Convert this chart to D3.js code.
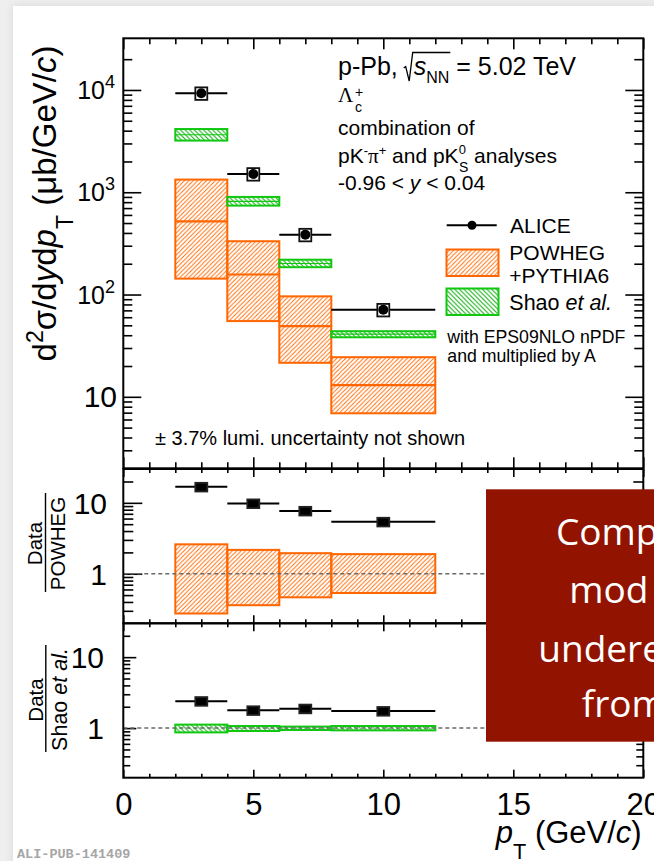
<!DOCTYPE html>
<html>
<head>
<meta charset="utf-8">
<script src="https://cdn.jsdelivr.net/npm/d3@7"></script>
<style>
  html, body { margin: 0; padding: 0; background: #efefef; }
  svg { display: block; }
  text { font-family: "Liberation Sans", Arial, Helvetica, sans-serif; }
</style>
</head>
<body>
<svg id="chart" width="654" height="861"></svg>
<script>
// ---- Lambda_c+ cross section in p-Pb collisions, sqrt(sNN) = 5.02 TeV ----
// pT bins (GeV/c)
const binLo  = [2, 4, 6, 8];
const binHi  = [4, 6, 8, 12];
const binMid = [3, 5, 7, 10];

// ALICE measurement (μb/GeV/c) and relative systematic uncertainty
const aliceVal     = [9300, 1510, 385, 71];
const aliceSystRel = [0.14, 0.14, 0.14, 0.14];

// POWHEG+PYTHIA6: central value and uncertainty band
const powhegCen = [520, 157, 49, 13];
const powhegLo  = [143, 55, 21.5, 6.9];
const powhegHi  = [1330, 332, 96, 24.4];

// Shao et al. (EPS09NLO nPDF, multiplied by A)
const shaoCen = [3650, 816, 201, 41];
const shaoLo  = [3200, 740, 185, 38.2];
const shaoHi  = [4150, 900, 219, 43.8];

// Data / POWHEG
const ratioPowheg       = [16.8, 9.8, 7.7, 5.4];
const ratioPowhegBandLo = [0.275, 0.36, 0.465, 0.535];
const ratioPowhegBandHi = [2.6, 2.17, 1.95, 1.89];

// Data / Shao et al.
const ratioShao       = [2.4, 1.78, 1.88, 1.74];
const ratioShaoBandLo = [0.87, 0.91, 0.94, 0.93];
const ratioShaoBandHi = [1.12, 1.07, 1.05, 1.07];
const ratioSystRel    = [0.14, 0.14, 0.14, 0.14];

// Axis ticks and labels
const xTicks        = [0, 5, 10, 15, 20];
const yTopMajor     = [10, 100, 1000, 10000];
const yTopLabelExp  = ["", "2", "3", "4"];
const ratioMajor    = [1, 10];
const ratioLabels   = ["1", "10"];

// ---------------------------------------------------------------------------
const ORANGE = "#ff6600";
const GREEN  = "#10c810";

const svg = d3.select("#chart");
const defs = svg.append("defs");

// soft card shadow
const f = defs.append("filter").attr("id", "card").attr("x", "-5%").attr("y", "-5%")
  .attr("width", "110%").attr("height", "110%");
f.append("feDropShadow").attr("dx", 0).attr("dy", 0).attr("stdDeviation", 4)
  .attr("flood-color", "#000").attr("flood-opacity", 0.10);

function hatch(id, color, dir, s, sw) {
  const p = defs.append("pattern").attr("id", id)
    .attr("patternUnits", "userSpaceOnUse").attr("width", s).attr("height", s);
  const d = dir === "/"
    ? `M-1,1 L1,-1 M0,${s} L${s},0 M${s - 1},${s + 1} L${s + 1},${s - 1}`
    : `M-1,${s - 1} L1,${s + 1} M0,0 L${s},${s} M${s - 1},-1 L${s + 1},1`;
  p.append("path").attr("d", d).attr("stroke", color)
    .attr("stroke-width", sw).attr("fill", "none");
}
hatch("hO", ORANGE, "/", 4.4, 0.9);
hatch("hG", "#0aa80a", "\\", 4.6, 1.0);

svg.append("rect").attr("width", 654).attr("height", 861).attr("fill", "#efefef");
svg.append("rect").attr("x", 13).attr("y", 6).attr("width", 700).attr("height", 900)
  .attr("fill", "#fff").attr("filter", "url(#card)");

// ---- scales ----
const X0 = 123.3, X1 = 643.3;
const x = d3.scaleLinear().domain([0, 20]).range([X0, X1]);
const panels = [
  { y: d3.scaleLog().domain([2, 3.2e4]).range([468.3, 38.3]),  top: 38.3,  bot: 468.3,
    yMaj: 18, yMin: 9, xMaj: 11, xMin: 6, minorMax: 2.5e4 },
  { y: d3.scaleLog().domain([0.2, 30]).range([623.3, 469]),    top: 469,   bot: 623.3,
    yMaj: 19, yMin: 10, xMaj: 8, xMin: 4, minorMax: 25 },
  { y: d3.scaleLog().domain([0.2, 30]).range([777.7, 623.3]),  top: 623.3, bot: 777.7,
    yMaj: 13, yMin: 7, xMaj: 8, xMin: 4, minorMax: 25 }
];
const [yTop, yMid, yBot] = panels.map(p => p.y);

function logMinor(scale, maxV) {
  const [lo, hi] = scale.domain();
  const out = [];
  for (let e = Math.floor(Math.log10(lo)); e <= Math.ceil(Math.log10(hi)); e++) {
    for (let k = 2; k <= 9; k++) {
      const v = k * Math.pow(10, e);
      if (v > lo * 1.001 && v < hi && v <= maxV) out.push(v);
    }
  }
  return out;
}
const xMinor = d3.range(0, 21).filter(v => v % 5 !== 0);

function styleTicks(g) {
  g.select(".domain").remove();
  g.selectAll(".tick line").attr("stroke", "#000").attr("stroke-width", 1.6);
  g.selectAll(".tick text").remove();
}

// ---- panel frames and ticks ----
panels.forEach(p => {
  const majors = p === panels[0] ? yTopMajor : ratioMajor;
  const minors = logMinor(p.y, p.minorMax);
  [[majors, p.yMaj], [minors, p.yMin]].forEach(([vals, len]) => {
    svg.append("g").attr("transform", `translate(${X0},0)`)
      .call(d3.axisLeft(p.y).tickValues(vals).tickSize(-len)).call(styleTicks);
    svg.append("g").attr("transform", `translate(${X1},0)`)
      .call(d3.axisRight(p.y).tickValues(vals).tickSize(-len)).call(styleTicks);
  });
  [[xTicks, p.xMaj], [xMinor, p.xMin]].forEach(([vals, len]) => {
    svg.append("g").attr("transform", `translate(0,${p.top})`)
      .call(d3.axisTop(x).tickValues(vals).tickSize(-len)).call(styleTicks);
    svg.append("g").attr("transform", `translate(0,${p.bot})`)
      .call(d3.axisBottom(x).tickValues(vals).tickSize(-len)).call(styleTicks);
  });
});

// ---- rich text helper (sub/superscripts, italics) ----
function rich(parent, xx, yy, fs, parts, anchor) {
  const t = parent.append("text").attr("x", xx).attr("y", yy).style("font-size", fs + "px");
  if (anchor) t.attr("text-anchor", anchor);
  let cur = 0;
  parts.forEach(p => {
    const o = typeof p === "string" ? { t: p } : p;
    const ts = t.append("tspan").text(o.t);
    let off = 0, size = null;
    if (o.sub) { off = o.off ?? 0.3 * fs; size = o.size ?? 0.7 * fs; }
    if (o.sup) { off = o.off ?? -0.4 * fs; size = o.size ?? 0.7 * fs; }
    if (off - cur) ts.attr("dy", off - cur);
    cur = off;
    if (size) ts.style("font-size", size + "px");
    if (o.it) ts.style("font-style", "italic");
    if (o.dx) ts.attr("dx", o.dx);
    if (o.font) ts.style("font-family", o.font);
  });
  return t;
}

// ---- tick labels ----
yTopMajor.forEach((v, i) => {
  const yy = yTop(v);
  if (yTopLabelExp[i]) {
    rich(svg, 115, yy + 9, 25, ["10", { t: yTopLabelExp[i], sup: true, size: 18, off: -11 }], "end");
  } else {
    rich(svg, 117, yy + 10.5, 30, ["10"], "end");
  }
});
[[yMid, 107], [yBot, 104]].forEach(([s, xe]) => {
  ratioMajor.forEach((v, i) => {
    svg.append("text").attr("x", xe).attr("y", s(v) + 11).attr("text-anchor", "end")
      .style("font-size", "30px").text(ratioLabels[i]);
  });
});
svg.append("g").attr("transform", `translate(0,${panels[2].bot})`)
  .call(d3.axisBottom(x).tickValues(xTicks).tickSize(0).tickPadding(15).tickFormat(d3.format("d")))
  .call(g => {
    g.select(".domain").remove();
    g.selectAll("text").style("font-size", "31px")
      .style("font-family", '"Liberation Sans", Arial, sans-serif').attr("fill", "#000");
  });

// ---- axis titles ----
const yTitle = svg.append("g").attr("transform", "translate(56,203.5) rotate(-90)");
rich(yTitle, 0, 0, 33, [
  "d", { t: "2", sup: true }, "σ/d", { t: "y", it: true }, "d", { t: "p", it: true },
  { t: "T", sub: true, off: 0.5 * 33 }, " (μb/GeV/", { t: "c", it: true }, ")"
], "middle");

rich(svg, 641.7, 843, 31, [
  { t: "p", it: true }, { t: "T", sub: true, off: 16 }, " (GeV/", { t: "c", it: true }, ")"
], "end");

const f1 = svg.append("g").attr("transform", "translate(42,543.5) rotate(-90)");
f1.append("text").attr("text-anchor", "middle").style("font-size", "20.5px").text("Data");
svg.append("line").attr("x1", 45.5).attr("x2", 45.5).attr("y1", 493).attr("y2", 592)
  .attr("stroke", "#000").attr("stroke-width", 1.4);
const f2 = svg.append("g").attr("transform", "translate(65,543.5) rotate(-90)");
f2.append("text").attr("text-anchor", "middle").style("font-size", "20.5px").text("POWHEG");

const f3 = svg.append("g").attr("transform", "translate(43,700) rotate(-90)");
f3.append("text").attr("text-anchor", "middle").style("font-size", "20.5px").text("Data");
svg.append("line").attr("x1", 45.8).attr("x2", 45.8).attr("y1", 645).attr("y2", 752)
  .attr("stroke", "#000").attr("stroke-width", 1.4);
const f4 = svg.append("g").attr("transform", "translate(67,699.5) rotate(-90)");
rich(f4, 0, 0, 21.5, ["Shao ", { t: "et al.", it: true }], "middle");

// ---- top panel: model bands ----
const bins = d3.range(binLo.length);
function band(g, yS, lo, hi, cen, pat, color, sw, cw) {
  g.selectAll(null).data(bins).join("rect")
    .attr("x", i => x(binLo[i])).attr("width", i => x(binHi[i]) - x(binLo[i]))
    .attr("y", i => yS(hi[i])).attr("height", i => yS(lo[i]) - yS(hi[i]))
    .attr("fill", `url(#${pat})`).attr("stroke", color).attr("stroke-width", sw);
  if (cen) {
    g.selectAll(null).data(bins).join("line")
      .attr("x1", i => x(binLo[i])).attr("x2", i => x(binHi[i]))
      .attr("y1", i => yS(cen[i])).attr("y2", i => yS(cen[i]))
      .attr("stroke", color).attr("stroke-width", cw);
  }
}
const gTop = svg.append("g");
band(gTop, yTop, powhegLo, powhegHi, powhegCen, "hO", ORANGE, 2, 2.2);
band(gTop, yTop, shaoLo, shaoHi, shaoCen, "hG", GREEN, 2, 1.2);

// ALICE points: bin-width bar, systematic box, marker
function dataPoints(g, yS, vals, syst, marker) {
  g.selectAll(null).data(bins).join("line")
    .attr("x1", i => x(binLo[i])).attr("x2", i => x(binHi[i]))
    .attr("y1", i => yS(vals[i])).attr("y2", i => yS(vals[i]))
    .attr("stroke", "#000").attr("stroke-width", 2);
  g.selectAll(null).data(bins).join("rect")
    .attr("x", i => x(binMid[i] - 0.23)).attr("width", i => x(binMid[i] + 0.23) - x(binMid[i] - 0.23))
    .attr("y", i => yS(vals[i] * (1 + syst[i])))
    .attr("height", i => yS(vals[i] * (1 - syst[i])) - yS(vals[i] * (1 + syst[i])))
    .attr("fill", marker === "circle" ? "#fff" : "#000")
    .attr("stroke", marker === "circle" ? "#111" : "#222").attr("stroke-width", 1.8);
  if (marker === "circle") {
    g.selectAll(null).data(bins).join("circle")
      .attr("cx", i => x(binMid[i])).attr("cy", i => yS(vals[i])).attr("r", 5)
      .attr("fill", "#000");
  }
}
dataPoints(gTop, yTop, aliceVal, aliceSystRel, "circle");

// ---- ratio panels ----
const gMid = svg.append("g");
band(gMid, yMid, ratioPowhegBandLo, ratioPowhegBandHi, null, "hO", ORANGE, 2, 0);
const gBot = svg.append("g");
band(gBot, yBot, ratioShaoBandLo, ratioShaoBandHi, null, "hG", GREEN, 2, 0);
[[gMid, yMid], [gBot, yBot]].forEach(([g, s]) => {
  g.append("line").attr("x1", X0).attr("x2", X1).attr("y1", s(1)).attr("y2", s(1))
    .attr("stroke", "#6a6a6a").attr("stroke-width", 1.5).attr("stroke-dasharray", "4,3");
});
dataPoints(gMid, yMid, ratioPowheg, ratioSystRel, "square");
dataPoints(gBot, yBot, ratioShao, ratioSystRel, "square");

// frames
panels.forEach(p => {
  svg.append("rect").attr("x", X0).attr("y", p.top).attr("width", X1 - X0)
    .attr("height", p.bot - p.top).attr("fill", "none")
    .attr("stroke", "#000").attr("stroke-width", 2);
});

// ---- annotations ----
const hdr = rich(svg, 338, 75, 25, [
  "p-Pb, ", { t: "s", it: true, dx: 9 }, { t: "NN", sub: true, off: 7.5, size: 16 },
  " = 5.02 TeV"
]);
{
  const n = hdr.node();
  const sx = n.getStartPositionOfChar(6).x;
  const ex = n.getEndPositionOfChar(8).x;
  svg.append("path")
    .attr("d", `M${sx - 10},68 L${sx - 8},66.5 L${sx - 4.5},81 L${sx - 1},52.5 L${ex + 1},52.5`)
    .attr("fill", "none").attr("stroke", "#000").attr("stroke-width", 1.3);
}
svg.append("text").attr("x", 338).attr("y", 101.7)
  .style("font-family", '"Liberation Serif", serif').style("font-size", "21px").text("Λ");
svg.append("text").attr("x", 355).attr("y", 112).style("font-size", "14px").text("c");
svg.append("text").attr("x", 355).attr("y", 96.5).style("font-size", "14px").text("+");

rich(svg, 338, 135, 21, ["combination of"]);
rich(svg, 338, 163.3, 21, [
  "pK", { t: "-", sup: true, off: -8, size: 13 },
  { t: "π", font: '"Liberation Serif", serif' }, { t: "+", sup: true, off: -8, size: 13 },
  " and pK", { t: "0", sup: true, off: -9, size: 13 }, { t: "S", sub: true, off: 9, size: 14, dx: -7 },
  " analyses"
]);
rich(svg, 338, 190, 21, ["-0.96 < ", { t: "y", it: true }, " < 0.04"]);

// legend
svg.append("line").attr("x1", 446.7).attr("x2", 496.7).attr("y1", 225.3).attr("y2", 225.3)
  .attr("stroke", "#000").attr("stroke-width", 2);
svg.append("circle").attr("cx", 472).attr("cy", 225.3).attr("r", 4.5).attr("fill", "#000");
svg.append("text").attr("x", 510).attr("y", 233).style("font-size", "21px").text("ALICE");
svg.append("rect").attr("x", 446.5).attr("y", 249.5).attr("width", 52).attr("height", 26.5)
  .attr("fill", "url(#hO)").attr("stroke", ORANGE).attr("stroke-width", 2);
svg.append("text").attr("x", 509.3).attr("y", 260).style("font-size", "21px").text("POWHEG");
svg.append("text").attr("x", 509.3).attr("y", 283.3).style("font-size", "21px").text("+PYTHIA6");
svg.append("rect").attr("x", 446.5).attr("y", 288.5).attr("width", 52).attr("height", 26.5)
  .attr("fill", "url(#hG)").attr("stroke", GREEN).attr("stroke-width", 2);
rich(svg, 509.3, 310, 21.5, ["Shao ", { t: "et al.", it: true }]);
svg.append("text").attr("x", 447.3).attr("y", 343.3).style("font-size", "17.7px").text("with EPS09NLO nPDF");
svg.append("text").attr("x", 447.3).attr("y", 361.7).style("font-size", "17.7px").text("and multiplied by A");

svg.append("text").attr("x", 155).attr("y", 445).style("font-size", "20px")
  .text("± 3.7% lumi. uncertainty not shown");

// publication id
svg.append("text").attr("x", 17).attr("y", 858)
  .style("font-family", '"Liberation Mono", monospace').style("font-weight", "bold")
  .style("font-size", "13.5px").style("fill", "#a6a6a6").text("ALI-PUB-141409");

// ---- callout box ----
svg.append("rect").attr("x", 486).attr("y", 489.3).attr("width", 200).attr("height", 252.4)
  .attr("fill", "#921400");
const callout = [["Comp", 556, 545], ["mod", 569.3, 602.7], ["undere", 538.3, 661.7], ["from", 581.7, 717.3]];
callout.forEach(([t, cx, cy]) => {
  svg.append("text").attr("x", cx).attr("y", cy)
    .style("font-family", '"Open Sans", "Noto Sans", sans-serif').style("font-size", "37px")
    .style("fill", "#fff").text(t);
});
</script>
</body>
</html>
